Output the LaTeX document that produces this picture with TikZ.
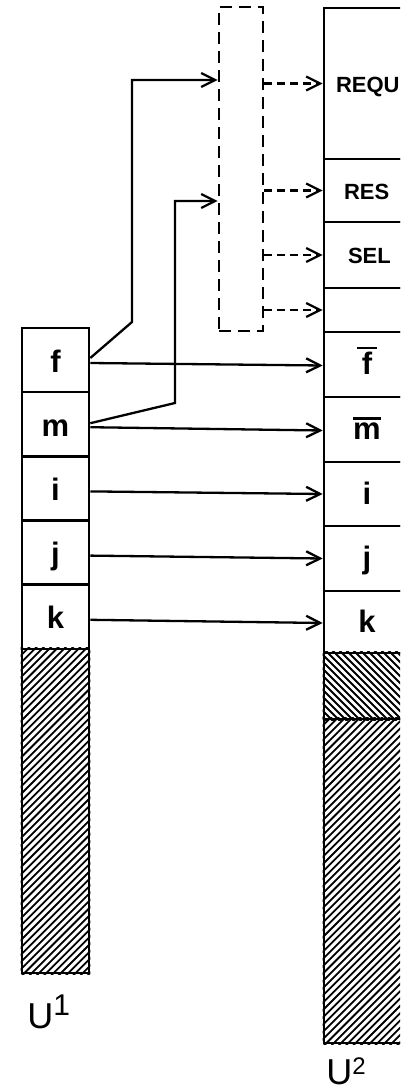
\documentclass[tikz,border=0pt]{standalone}
\usepackage{fontspec}
\setmainfont{Liberation Sans}
\usetikzlibrary{arrows.meta}
\newcommand\ovl[2]{\vbox{\hrule height 2.4pt width #2\kern3pt\hbox to #2{\hss#1\hss}}}
\begin{document}
\begin{tikzpicture}[x=1pt,y=-1pt,line width=2.6pt,
  lcell/.style={draw, minimum width=67pt, minimum height=64.2pt, inner sep=0pt,
    text height=24pt, text depth=0pt, font=\fontsize{31}{31}\bfseries\selectfont},
  rcell/.style={draw, minimum width=86pt, inner sep=0pt,
    text height=20pt, text depth=0pt, font=\fontsize{31}{31}\bfseries\selectfont},
  caplabel/.style={anchor=base west, inner sep=0pt, font=\fontsize{22}{22}\bfseries\selectfont},
  ulabel/.style={anchor=base west, inner sep=0pt, font=\fontsize{36}{36}\selectfont},
  arr/.style={line width=2.3pt, -{Straight Barb[length=14pt,width=14pt]}},
  darr/.style={arr, dash pattern=on 8pt off 5pt},
  hatchline/.style={line width=1.8pt},
  dbox/.style={draw, dash pattern=on 12pt off 7pt, minimum width=44pt, minimum height=324pt, inner sep=0pt}]
\useasboundingbox (0,0) rectangle (400,1092);
\clip (0,0) rectangle (400,1092);

% ---------- left column U1 ----------
\node[lcell] (f) at (55.5,360) {f};
\node[lcell] (m) at (55.5,424.2) {m};
\node[lcell] (i) at (55.5,488.4) {i};
\node[lcell] (j) at (55.5,552.6) {j};
\node[lcell] (k) at (55.5,616.8) {k};
\node[minimum width=67pt, minimum height=324pt, inner sep=0pt] (h1) at (55.5,811) {};
\begin{scope}
  \clip (h1.south west) rectangle (h1.north east);
  \foreach \n in {0,...,57} \draw[hatchline] (20,{649+7.3*\n}) -- ++(84,-84);
\end{scope}
\node[draw, minimum width=67pt, minimum height=324pt, inner sep=0pt] at (h1) {};
\node[ulabel] (u1) at (26,1028) {U\raisebox{13pt}{\fontsize{30}{30}\selectfont 1}};

% ---------- right column U2 ----------
\node[rcell, minimum height=151pt] (requ) at (367,83.5) {};
\node[rcell, minimum height=63pt] (res) at (367,190.5) {};
\node[rcell, minimum height=66pt] (sel) at (367,255) {};
\node[rcell, minimum height=44pt] (blank) at (367,310) {};
\node[rcell, minimum height=65pt] (fb) at (367,364.5) {\ovl{f}{20pt}};
\node[rcell, minimum height=65pt] (mb) at (367,429.5) {\ovl{m}{28pt}};
\node[rcell, minimum height=64pt] (ri) at (367,494) {i};
\node[rcell, minimum height=65pt] (rj) at (367,558.5) {j};
\node[rcell, minimum height=62pt] (rk) at (367,622) {k};
\node[caplabel] (trequ) at ([xshift=12pt,yshift=-8.5pt]requ.west) {REQU};
\node[caplabel] (tres) at ([xshift=20pt,yshift=-8.5pt]res.west) {RES};
\node[caplabel] (tsel) at ([xshift=24pt,yshift=-8.5pt]sel.west) {SEL};

\node[minimum width=86pt, minimum height=66pt, inner sep=0pt] (h2) at (367,686) {};
\node[minimum width=86pt, minimum height=324pt, inner sep=0pt] (h3) at (367,881) {};
\begin{scope}
  \clip (h2.south west) rectangle (h2.north east);
  \foreach \n in {0,...,24} \draw[hatchline] (322,{563+7*\n}) -- ++(94,94);
\end{scope}
\begin{scope}
  \clip (h3.south west) rectangle (h3.north east);
  \foreach \n in {0,...,57} \draw[hatchline] (322,{719+7.3*\n}) -- ++(94,-94);
\end{scope}
\node[draw, minimum width=86pt, minimum height=66pt, inner sep=0pt] at (h2) {};
\node[draw, minimum width=86pt, minimum height=324pt, inner sep=0pt] at (h3) {};
\node[ulabel] (u2) at (325,1084) {U\raisebox{10pt}{\fontsize{24}{24}\selectfont 2}};

% ---------- dashed box ----------
\node[dbox] (db) at (241,169) {};

% ---------- connectors ----------
\coordinate (c1) at (132,322);
\coordinate (c2) at (132,80);
\coordinate (c3) at (175,403);
\coordinate (c4) at (175,201);
\draw[arr] ([yshift=2pt]f.east) -- (c1) -- (c2) -- (db.west |- c2);
\draw[arr] ([yshift=1pt]m.east) -- (c3) -- (c4) -- (db.west |- c4);

\draw[darr] (db.east |- requ.west) -- (requ.west);
\draw[darr] (db.east |- res.west) -- (res.west);
\draw[darr] (db.east |- sel.west) -- (sel.west);
\draw[darr] (db.east |- blank.west) -- (blank.west);

\draw[arr] ([yshift=-3pt]f.east) -- ([yshift=-1pt]fb.west);
\draw[arr] ([yshift=-3pt]m.east) -- ([yshift=-1pt]mb.west);
\draw[arr] ([yshift=-3pt]i.east) -- (ri.west);
\draw[arr] ([yshift=-3pt]j.east) -- (rj.west);
\draw[arr] ([yshift=-3pt]k.east) -- ([yshift=-1pt]rk.west);
\end{tikzpicture}
\end{document}
